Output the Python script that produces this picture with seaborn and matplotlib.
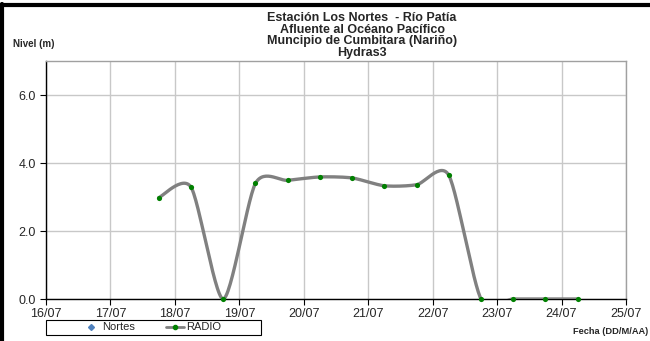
#### Nivel del río - Estación Los Nortes ####
import numpy as np
import pandas as pd
import matplotlib.pyplot as plt
import seaborn as sns
from matplotlib.lines import Line2D
from matplotlib.patches import Rectangle

# Valores (x = dia de julio, y = nivel en m)
radio_dia = [17.75, 18.25, 18.75, 19.25, 19.75, 20.25, 20.75,
             21.25, 21.75, 22.25, 22.75, 23.25, 23.75, 24.25]
radio_nivel = [2.98, 3.29, 0.0, 3.40, 3.49, 3.59, 3.56,
               3.33, 3.36, 3.64, 0.0, 0.0, 0.0, 0.0]

dias = [16, 17, 18, 19, 20, 21, 22, 23, 24, 25]
etiquetas_dias = ['16/07', '17/07', '18/07', '19/07', '20/07',
                  '21/07', '22/07', '23/07', '24/07', '25/07']
niveles = [0, 2, 4, 6]
etiquetas_niveles = ['0.0', '2.0', '4.0', '6.0']

titulo = ('Estación Los Nortes  - Río Patía\n'
          'Afluente al Océano Pacífico\n'
          'Muncipio de Cumbitara (Nariño)\n'
          'Hydras3')


def suavizar(x, y, k=1 / 8, n=30):
    # curva suavizada tipo Excel (bezier entre puntos)
    p = np.column_stack([x, y])
    ext = np.vstack([p[0], p, p[-1]])
    t = np.linspace(0, 1, n)[:, None]
    tramos = []
    for i in range(len(p) - 1):
        p0, p1 = ext[i + 1], ext[i + 2]
        c1 = p0 + (ext[i + 2] - ext[i]) * k
        c2 = p1 - (ext[i + 3] - ext[i + 1]) * k
        seg = ((1 - t) ** 3 * p0 + 3 * (1 - t) ** 2 * t * c1
               + 3 * (1 - t) * t ** 2 * c2 + t ** 3 * p1)
        tramos.append(seg if i == 0 else seg[1:])
    curva = np.vstack(tramos)
    return pd.DataFrame({'dia': curva[:, 0], 'nivel': curva[:, 1]})


sns.set_style('white')
plt.rcParams['font.family'] = ['Liberation Sans', 'DejaVu Sans']

W, H = 650, 341
fig = plt.figure(figsize=(W / 100, H / 100), dpi=100)
ax = fig.add_axes([46 / W, 1 - 299 / H, (626 - 46) / W, (299 - 61) / H])

curva = suavizar(radio_dia, radio_nivel)
sns.lineplot(data=curva, x='dia', y='nivel', sort=False, estimator=None,
             color='#808080', linewidth=2.4, ax=ax, zorder=3)
sns.scatterplot(x=radio_dia, y=radio_nivel, color='#008000', s=14,
                edgecolor='#008000', linewidth=0, ax=ax, zorder=4, clip_on=False)

ax.set_xlim(16, 25)
ax.set_ylim(0, 7)
ax.set_xticks(dias)
ax.set_xticklabels(etiquetas_dias)
ax.set_yticks(niveles)
ax.set_yticklabels(etiquetas_niveles)
ax.set_xlabel('')
ax.set_ylabel('')
ax.grid(True, color='#c8c8c8', linewidth=1)
ax.set_axisbelow(True)
for lado in ['top', 'right']:
    ax.spines[lado].set_color('#a0a0a0')
    ax.spines[lado].set_linewidth(1)
for lado in ['left', 'bottom']:
    ax.spines[lado].set_color('black')
    ax.spines[lado].set_linewidth(1)
ax.tick_params(axis='both', direction='out', length=4, width=0.8,
               color='black', labelsize=9, bottom=True, left=True)
ax.tick_params(axis='x', pad=2.5)
ax.tick_params(axis='y', pad=3.5)

fig.text(362 / W, 1 - 35.5 / H, titulo, ha='center', va='center',
         multialignment='center', fontsize=9, fontweight='bold',
         linespacing=0.95)

fig.text(13 / W, 1 - 44 / H, 'Nivel (m)', ha='left', va='center',
         fontsize=7, fontweight='bold')
fig.text(648 / W, 1 - 332 / H, 'Fecha (DD/M/AA)', ha='right', va='center',
         fontsize=6.7, fontweight='bold')

# leyenda con su recuadro
fig.add_artist(Rectangle((46 / W, 1 - 335 / H), 215 / W, 15 / H,
                         transform=fig.transFigure, fill=False,
                         edgecolor='black', linewidth=0.8))
manejadores = [
    Line2D([], [], marker='D', color='#4f81bd', linestyle='none', markersize=3),
    Line2D([], [], color='#808080', linewidth=2, marker='o',
           markerfacecolor='#008000', markeredgecolor='#008000', markersize=3),
]
fig.legend(manejadores, ['Nortes', 'RADIO'], loc='center',
           bbox_to_anchor=(152 / W, 1 - 327.5 / H), ncol=2, frameon=False,
           fontsize=8, handlelength=1.6, handletextpad=0.2, columnspacing=2.8,
           borderpad=0, borderaxespad=0)

# borde superior e izquierdo del marco
fig.add_artist(Line2D([0, 1], [1 - 5 / H, 1 - 5 / H],
                      transform=fig.transFigure, color='black', linewidth=3))
fig.add_artist(Line2D([1.5 / W, 1.5 / W], [0, 1 - 3.5 / H],
                      transform=fig.transFigure, color='black', linewidth=3))

fig.savefig('out.png', dpi=100)
